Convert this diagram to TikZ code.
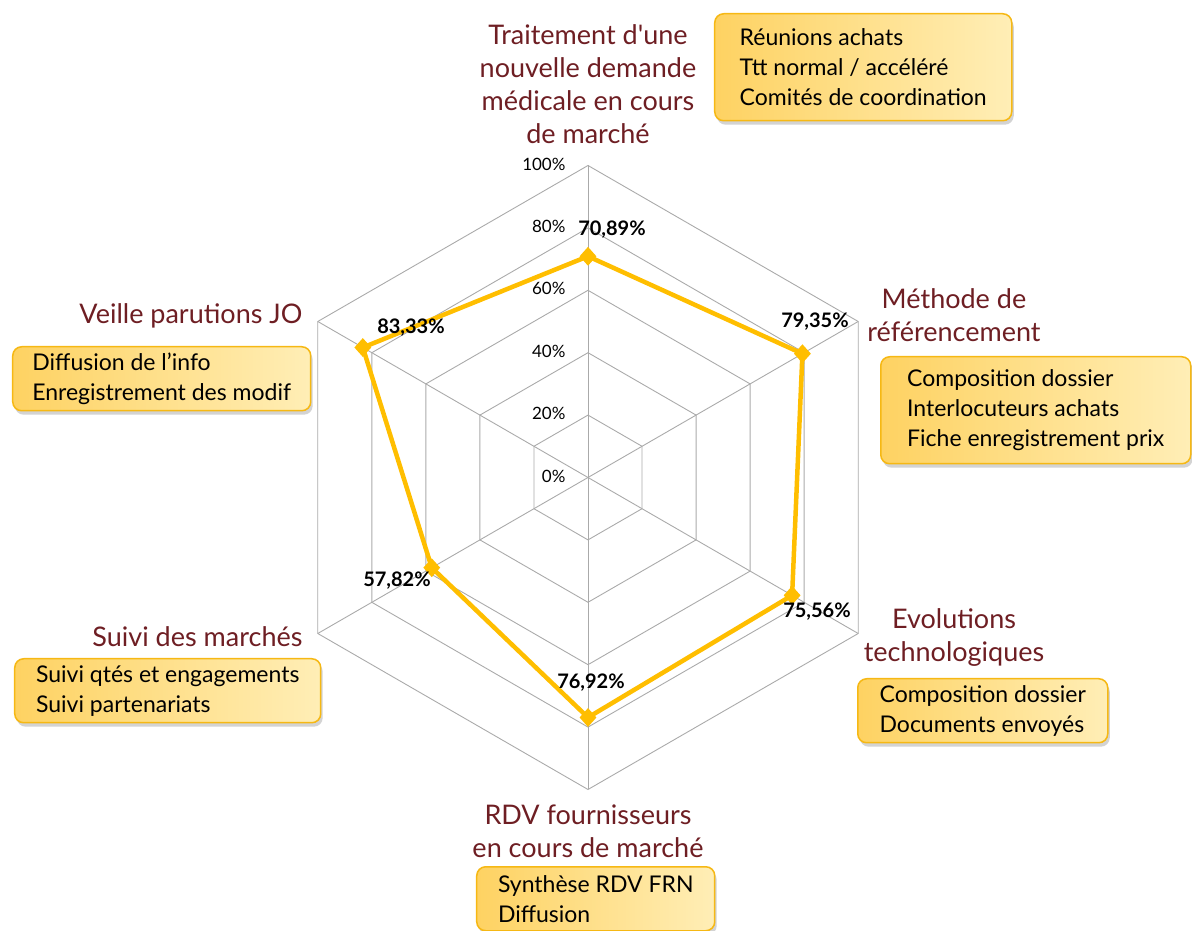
\documentclass[tikz,border=0pt]{standalone}
\usepackage{fontspec}
\setmainfont{Lato}
\newfontfamily\latoplain{Lato}
\usepackage{tikz}
\usetikzlibrary{shapes.geometric, shadows, shadings}
\usepackage{xcolor}
\definecolor{titlered}{RGB}{110,30,35}
\definecolor{seriegold}{RGB}{255,190,0}
\definecolor{gridgray}{RGB}{170,170,170}
\definecolor{boxedge}{RGB}{246,184,20}
\definecolor{boxleft}{RGB}{254,210,98}
\definecolor{boxright}{RGB}{255,238,182}

\begin{document}
\begin{tikzpicture}[x=1pt, y=1pt,
	gridline/.style={gridgray, line width=0.9pt},
	axislabel/.style={anchor=east, font=\fontsize{17}{20}\selectfont},
	valuelabel/.style={font=\bfseries\fontsize{20}{24}\selectfont},
	titlelabel/.style={titlered, align=center, font=\fontsize{27}{33}\selectfont},
	infobox/.style={draw=boxedge, line width=1.5pt, rounded corners=9pt,
		left color=boxleft, right color=boxright,
		drop shadow={shadow xshift=2pt, shadow yshift=-4pt, opacity=0.35},
		anchor=north west, align=left, inner xsep=18pt, inner ysep=0pt,
		font=\fontsize{23}{30}\selectfont},
	pointmark/.style={diamond, fill=seriegold, inner sep=0pt, minimum width=17pt, minimum height=19pt}]
	\useasboundingbox (-588,-453.5) rectangle (604,477.5);
	%Grid rings and spokes
	\foreach \r in {62.4,124.8,187.2,249.6,312}
	\draw[gridline] (90:\r) -- (30:\r) -- (-30:\r) -- (-90:\r) -- (-150:\r) -- (150:\r) -- cycle;
	\foreach \a in {90,30,-30,-90,-150,150}
	\draw[gridline] (0,0) -- (\a:312);
	% Axis labels
	\foreach \p in {0,20,40,60,80,100}
	\node[axislabel] (ax\p) at (-19,{\p*3.12+1.5}) {\p\%};
	% Data points
	\node[pointmark] (trait) at (90:221.2) {};
	\node[pointmark] (methode) at (30:247.6) {};
	\node[pointmark] (evol) at (-30:235.7) {};
	\node[pointmark] (rdv) at (-90:240.0) {};
	\node[pointmark] (suivi) at (-150:180.4) {};
	\node[pointmark] (veille) at (150:260.0) {};
	\draw[seriegold, line width=4.5pt, line join=round]
	(trait.center) -- (methode.center) -- (evol.center) -- (rdv.center) -- (suivi.center) -- (veille.center) -- cycle;
	% Values
	\node[valuelabel] (v-trait) at (24,247.5) {70,89\%};
	\node[valuelabel] (v-methode) at (227,155.5) {79,35\%};
	\node[valuelabel] (v-evol) at (229,-134.5) {75,56\%};
	\node[valuelabel] (v-rdv) at (3,-205.5) {76,92\%};
	\node[valuelabel] (v-suivi) at (-191,-103.5) {57,82\%};
	\node[valuelabel] (v-veille) at (-177,149.5) {83,33\%};
	% Titles
	\node[titlelabel] (t-trait) at (0,393) {Traitement d{\latoplain'}une\\nouvelle demande\\médicale en cours\\de marché};
	\node[titlelabel] (t-methode) at (366,162.5) {Méthode de\\référencement};
	\node[titlelabel] (t-evol) at (366,-160) {Evolutions\\technologiques};
	\node[titlelabel] (t-rdv) at (0,-354) {RDV fournisseurs\\en cours de marché};
	\node[titlelabel, anchor=east] (t-suivi) at (-282,-159.5) {Suivi des marchés};
	\node[titlelabel, anchor=east] (t-veille) at (-282,161.5) {Veille parutions JO};
	% Boxes
	\node[infobox, minimum width=297pt, minimum height=107pt] (b-trait) at (126,464.5)
	{Réunions achats\\Ttt normal / accéléré\\Comités de coordination};
	\node[infobox, minimum width=310pt, minimum height=107pt] (b-methode) at (292,121.5)
	{Composition dossier\\Interlocuteurs achats\\Fiche enregistrement prix};
	\node[infobox, minimum width=250pt, minimum height=64pt] (b-evol) at (269,-200.5)
	{Composition dossier\\Documents envoyés};
	\node[infobox, minimum width=238pt, minimum height=64pt] (b-rdv) at (-112,-388.5)
	{Synthèse RDV FRN\\Diffusion};
	\node[infobox, minimum width=306pt, minimum height=64pt] (b-suivi) at (-574,-180.5)
	{Suivi qtés et engagements\\Suivi partenariats};
	\node[infobox, minimum width=298pt, minimum height=64pt] (b-veille) at (-576,131.5)
	{Diffusion de l’info\\Enregistrement des modif};
\end{tikzpicture}
\end{document}
